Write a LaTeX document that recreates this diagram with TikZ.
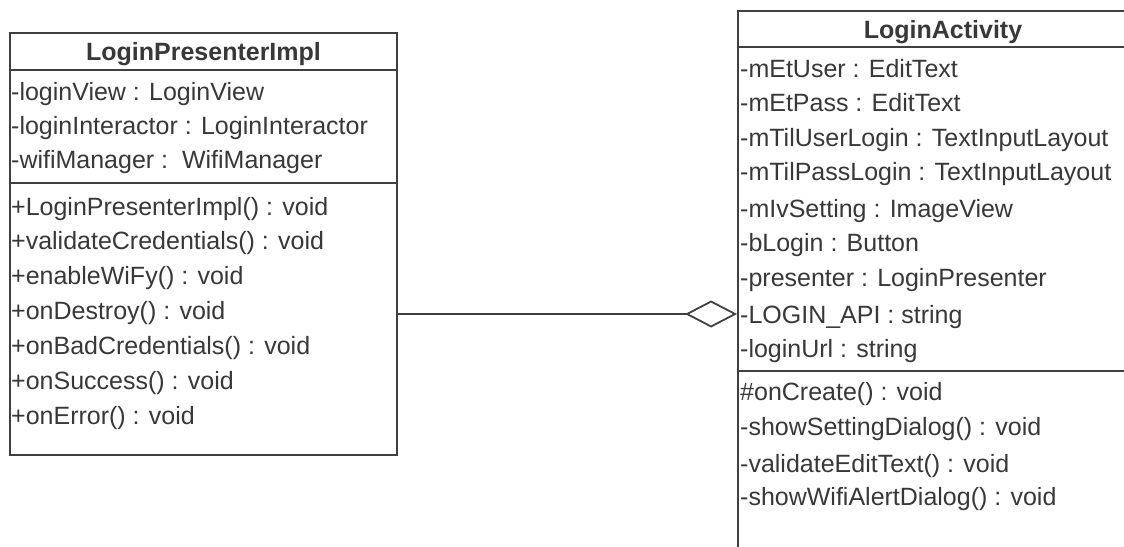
\documentclass[tikz,border=0pt]{standalone}
\usepackage{fontspec}
\setmainfont{Liberation Sans}
\usetikzlibrary{arrows.meta}
\definecolor{ink}{HTML}{383838}
\definecolor{edge}{HTML}{404040}
\tikzset{
  row/.style={anchor=base west, inner sep=0pt, text=ink, font=\fontsize{25pt}{30pt}\selectfont},
  ttl/.style={anchor=base, inner sep=0pt, text=ink, font=\fontsize{25pt}{30pt}\selectfont\bfseries},
  frame/.style={draw=edge, line width=1.8pt, rectangle, inner sep=0pt},
  sep/.style={draw=edge, line width=1.8pt},
}
\begin{document}
\begin{tikzpicture}[x=1pt,y=-1pt]
\useasboundingbox (0,0) rectangle (1124,546);
\fill[white] (0,0) rectangle (1124,546);
\begin{scope}
\clip (0,0) rectangle (1124,546);
% left class
\node[frame, minimum width=387pt, minimum height=422pt] (lp) at (203.5,244) {};
\draw[sep] (lp.west |- 0,70) -- (lp.east |- 0,70);
\draw[sep] (lp.west |- 0,183) -- (lp.east |- 0,183);
\node[ttl] (lpt) at (203.5,60) {LoginPresenterImpl};
\node[row] (a1) at (11,100) {-loginView : LoginView};
\node[row] (a2) at (11,134) {-loginInteractor : LoginInteractor};
\node[row] (a3) at (11,168) {-wifiManager :\ \ WifiManager};
\node[row] (m1) at (11,215) {+LoginPresenterImpl() : void};
\node[row] (m2) at (11,249) {+validateCredentials() : void};
\node[row] (m3) at (11,284) {+enableWiFy() : void};
\node[row] (m4) at (11,319) {+onDestroy() : void};
\node[row] (m5) at (11,354) {+onBadCredentials() : void};
\node[row] (m6) at (11,389) {+onSuccess() : void};
\node[row] (m7) at (11,424) {+onError() : void};
% right class
\node[frame, minimum width=410pt, minimum height=549pt] (la) at (943,285.5) {};
\draw[sep] (la.west |- 0,47) -- (la.east |- 0,47);
\draw[sep] (la.west |- 0,371) -- (la.east |- 0,371);
\node[ttl] (lat) at (943,38) {LoginActivity};
\node[row] (b1) at (740,77) {-mEtUser : EditText};
\node[row] (b2) at (740,111) {-mEtPass : EditText};
\node[row] (b3) at (740,146) {-mTilUserLogin : TextInputLayout};
\node[row] (b4) at (740,180) {-mTilPassLogin : TextInputLayout};
\node[row] (b5) at (740,217) {-mIvSetting : ImageView};
\node[row] (b6) at (740,251) {-bLogin : Button};
\node[row] (b7) at (740,286) {-presenter : LoginPresenter};
\node[row] (b8) at (740,323) {-LOGIN\_API : string};
\node[row] (b9) at (740,357) {-loginUrl : string};
\node[row] (n1) at (740,400) {\#onCreate() : void};
\node[row] (n2) at (740,435) {-showSettingDialog() : void};
\node[row] (n3) at (740,472) {-validateEditText() : void};
\node[row] (n4) at (740,505) {-showWifiAlertDialog() : void};
% aggregation
\coordinate (c1) at (lp.east |- 0,314);
\coordinate (c2) at (la.west |- 0,314);
\draw[draw=edge, line width=1.8pt, -{Diamond[open, length=52pt, width=27pt]}] (c1) -- (c2);
\end{scope}
\end{tikzpicture}
\end{document}
